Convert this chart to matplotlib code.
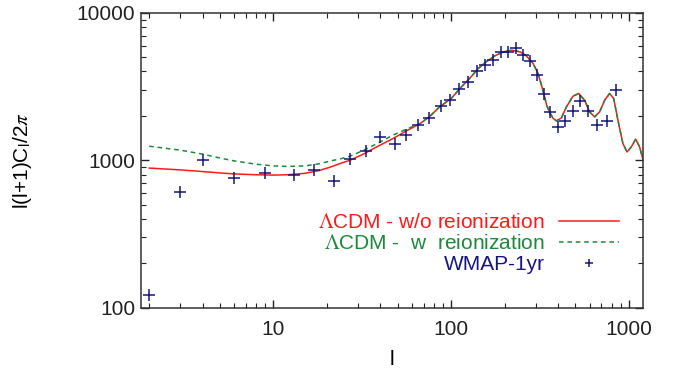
import matplotlib
matplotlib.use('Agg')
import matplotlib.pyplot as plt
from matplotlib.ticker import FuncFormatter, NullFormatter, LogLocator

plt.rcParams['font.family'] = ['Liberation Sans', 'DejaVu Sans']
plt.rcParams['mathtext.fontset'] = 'stix'

# WMAP 1-year band powers
l_wmap = [2, 3, 4, 6, 9, 13, 17, 22, 27, 33, 40, 48, 56, 65, 75, 88, 98, 111,
          124, 139, 155, 172, 191, 210, 232, 254, 279, 305, 334, 359, 397, 438,
          483, 528, 585, 657, 749, 847]
cl_wmap = [122, 609, 1000, 759, 825, 797, 855, 726, 1019, 1160, 1428, 1294,
           1485, 1728, 1943, 2318, 2564, 3020, 3375, 4053, 4402, 4797, 5395,
           5395, 5734, 5203, 4722, 3776, 2836, 2128, 1670, 1845, 2142, 2527,
           2159, 1742, 1848, 2997]

# model curves
l_model = [2, 3, 4, 5, 6, 8, 10, 12, 15, 18, 21, 24, 27, 32, 38, 47, 57, 67,
           76, 86, 100, 112, 127, 142, 157, 176, 196, 219, 244, 265, 289, 308,
           324, 335, 345, 359, 375, 391, 417, 445, 484, 522, 563, 601, 641,
           684, 730, 779, 821, 867, 925, 975, 1031, 1091, 1148, 1200]
cl_noreion = [885, 860, 838, 820, 808, 797, 793, 797, 815, 850, 900, 955, 1000,
              1099, 1230, 1403, 1600, 1775, 1990, 2300, 2620, 3069, 3585, 4193,
              4648, 5105, 5436, 5580, 5436, 5105, 4535, 3877, 3150, 2700, 2350,
              2100, 1920, 1850, 1937, 2300, 2719, 2836, 2553, 2128, 1967, 2128,
              2553, 2836, 2624, 1868, 1298, 1138, 1231, 1389, 1231, 1011]
cl_reion = [1245, 1170, 1100, 1035, 990, 940, 915, 908, 915, 945, 989, 1025,
            1065, 1165, 1290, 1479, 1640, 1775, 1990, 2300, 2620, 3069, 3585,
            4193, 4648, 5105, 5436, 5580, 5436, 5105, 4535, 3877, 3150, 2700,
            2350, 2100, 1920, 1850, 1937, 2300, 2719, 2836, 2553, 2128, 1967,
            2128, 2553, 2836, 2624, 1868, 1298, 1138, 1231, 1389, 1231, 1011]

fs = 15

fig = plt.figure(figsize=(6.78, 3.72), dpi=100)
ax = fig.add_axes([0.208, 0.173, 0.7404, 0.7925])

red, = ax.plot(l_model, cl_noreion, color='#ff1a1a', lw=1.1,
               label=r'$\Lambda$CDM - w/o reionization')
green, = ax.plot(l_model, cl_reion, color='#1b8a3a', lw=1.1, dashes=(3, 2.5),
                 label=r'$\Lambda$CDM -  w  reionization')
pts, = ax.plot(l_wmap, cl_wmap, ls='none', marker='+', ms=8, mew=1.1,
               color='#16167e', label='WMAP-1yr')

ax.set_xscale('log')
ax.set_yscale('log')
ax.set_xlim(1.8, 1200)
ax.set_ylim(100, 10000)

fmt = FuncFormatter(lambda v, _: f'{v:g}')
for axis in (ax.xaxis, ax.yaxis):
    axis.set_major_locator(LogLocator(base=10))
    axis.set_minor_locator(LogLocator(base=10, subs=range(2, 10)))
    axis.set_major_formatter(fmt)
    axis.set_minor_formatter(NullFormatter())

ax.tick_params(which='both', direction='in', top=True, right=True,
               labelsize=fs, colors='#222222')
ax.tick_params(which='major', length=6, width=1)
ax.tick_params(axis='x', which='major', pad=9)
ax.tick_params(axis='y', which='major', pad=4)
ax.tick_params(which='minor', length=3.5, width=0.8)
for s in ax.spines.values():
    s.set_linewidth(1.1)
    s.set_color('#333333')

ax.set_xlabel('l', fontsize=fs, labelpad=8)
ax.set_ylabel(r'l(l+1)C$_{\mathregular{l}}$/2$\pi$', fontsize=fs, labelpad=31)

leg = ax.legend(handles=[red, green, pts], loc='upper right',
                bbox_to_anchor=(0.952, 0.32), frameon=False, markerfirst=False,
                fontsize=fs, handlelength=2.9, handletextpad=0.65,
                labelspacing=0.1, borderpad=0, borderaxespad=0,
                markerscale=0.7)
for t, c in zip(leg.get_texts(), ['#ff1a1a', '#1b8a3a', '#16167e']):
    t.set_color(c)

fig.savefig('out.png', dpi=100)
